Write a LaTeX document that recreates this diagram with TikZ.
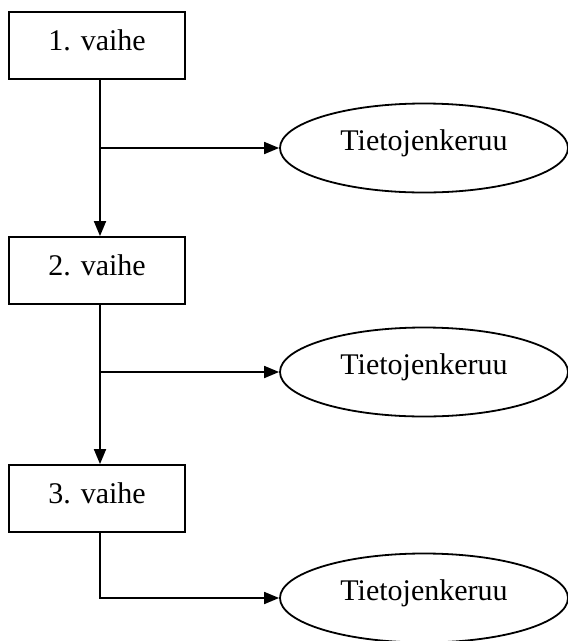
\documentclass[tikz,border=0pt]{standalone}
\usepackage{fontspec}
\setmainfont{Liberation Serif}
\usetikzlibrary{shapes.geometric,arrows.meta}
\begin{document}
\begin{tikzpicture}[x=1pt,y=-1pt,
  stepbox/.style={draw,line width=1.8pt,minimum width=176pt,minimum height=67pt,inner sep=0pt,
    font=\fontsize{30}{34}\selectfont,text height=20pt,text depth=11pt},
  datanode/.style={draw,ellipse,line width=1.8pt,minimum width=288pt,minimum height=89pt,inner sep=0pt,
    font=\fontsize{30}{34}\selectfont,text height=20pt,text depth=16pt},
  flow/.style={line width=1.8pt,-{Triangle[length=15pt,width=12pt]}}]
\useasboundingbox (0,0) rectangle (568,641);
\begin{scope}
\clip (0,0) rectangle (568,641);
\node[stepbox] (b1) at (97,45.5) {1. vaihe};
\node[stepbox] (b2) at (97,270.5) {2. vaihe};
\node[stepbox] (b3) at (97,498.5) {3. vaihe};
\node[datanode] (e1) at (424,148) {Tietojenkeruu};
\node[datanode] (e2) at (424,372) {Tietojenkeruu};
\node[datanode] (e3) at (424,598) {Tietojenkeruu};
\coordinate (t1) at (100,79);
\coordinate (t2) at (100,304);
\coordinate (t3) at (100,532);
\coordinate (j1) at (100,148);
\coordinate (j2) at (100,372);
\draw[flow] (t1) -- (b2.north -| t1);
\draw[flow] (t2) -- (b3.north -| t2);
\draw[flow] (j1) -- (e1.west);
\draw[flow] (j2) -- (e2.west);
\draw[flow,line join=miter] (t3) |- (e3.west);
\end{scope}
\end{tikzpicture}
\end{document}
